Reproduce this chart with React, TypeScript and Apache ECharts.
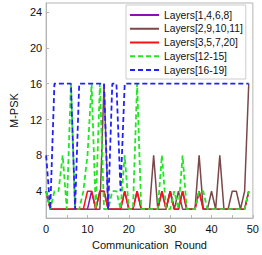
import React, { useEffect, useRef } from "react";
import * as echarts from "echarts";

const seriesNames = [
  "Layers[1,4,6,8]",
  "Layers[2,9,10,11]",
  "Layers[3,5,7,20]",
  "Layers[12-15]",
  "Layers[16-19]",
];

// rounds 0..49
const purple = [4,2,2,2,2,2,2,2,2,2, 2,4,2,4,4,2,2,2,2,4, 2,2,4,2,2,2,2,2,4,2, 4,2,2,4,2,2,2,4,2,2, 2,2,2,2,2,2,2,2,2,4];
const brown = [4,2,2,2,2,2,2,2,2,2, 2,2,2,2,16,2,2,2,2,2, 2,2,2,2,2,2,8,2,2,2, 4,2,4,2,2,2,2,8,2,2, 4,2,8,2,2,4,4,2,4,16];
const red = [4,2,2,2,2,2,2,2,2,2, 4,4,2,4,4,2,2,2,2,4, 2,2,4,2,2,2,2,2,4,2, 4,2,2,4,2,2,2,4,2,2, 2,2,2,2,2,2,2,2,2,4];
const green = [4,2,4,4,8,2,16,2,2,4, 8,16,2,16,2,2,4,4,2,8, 2,2,16,2,2,2,2,2,8,2, 2,4,2,8,2,2,2,4,4,2, 2,2,2,2,2,2,2,2,2,4];
const blue = [8,2,16,16,16,16,16,2,16,16, 16,16,16,16,16,2,16,16,4,16, 16,16,16,16,16,16,16,16,16,16, 16,16,16,16,16,16,16,16,16,16, 16,16,16,16,16,16,16,16,16,16];

const yTicks = [4, 8, 12, 16, 20, 24];
const xLabelStep = 10;
const xTickStep = 5;

const colors = ["#8a10b8", "#7a4848", "#ff1010", "#22e622", "#2020ff"];
const FONT = "Liberation Sans, Arial, sans-serif";

export default function App() {
  const ref = useRef<HTMLDivElement>(null);
  useEffect(() => {
    if (!ref.current) return;
    const chart = echarts.init(ref.current, undefined, { renderer: "svg" });
    const all = [purple, brown, red, green, blue];
    const axisColor = "#b4b4b4";
    chart.setOption({
      animation: false,
      backgroundColor: "#fff",
      textStyle: { fontFamily: FONT },
      grid: { left: 29.5, right: 7, top: 3, bottom: 28, show: true, borderColor: axisColor, borderWidth: 1 },
      legend: {
        orient: "vertical",
        left: 126,
        top: 5,
        padding: [4, 3, 3, 3],
        itemWidth: 29,
        itemHeight: 12,
        itemGap: 1.75,
        backgroundColor: "#fff",
        borderColor: "#cccccc",
        borderWidth: 1,
        itemStyle: { opacity: 0 },
        textStyle: { fontSize: 10.3, color: "#111", fontFamily: FONT, lineHeight: 12 },
        data: seriesNames,
      },
      xAxis: {
        type: "value",
        min: 0,
        max: 50,
        interval: xTickStep,
        name: "Communication  Round",
        nameLocation: "middle",
        nameGap: 17,
        nameTextStyle: { fontSize: 11, color: "#111", fontFamily: FONT },
        axisLine: { show: true, lineStyle: { color: axisColor } },
        axisTick: { show: true, inside: true, length: 3, lineStyle: { color: axisColor } },
        axisLabel: {
          fontSize: 11,
          color: "#111",
          margin: 5,
          fontFamily: FONT,
          formatter: (v: number) => (v % xLabelStep === 0 ? String(v) : ""),
        },
        splitLine: { show: false },
      },
      yAxis: {
        type: "value",
        min: 1,
        max: 25,
        name: "M-PSK",
        nameLocation: "middle",
        nameGap: 18,
        nameTextStyle: { fontSize: 11, color: "#111", fontFamily: FONT },
        axisLine: { show: true, lineStyle: { color: axisColor } },
        axisTick: { show: true, inside: true, length: 3, customValues: yTicks, lineStyle: { color: axisColor } },
        axisLabel: { customValues: yTicks, fontSize: 11, color: "#111", margin: 4, fontFamily: FONT },
        splitLine: { show: false },
      },
      series: all.map((arr, k) => ({
        name: seriesNames[k],
        type: "line",
        symbol: "none",
        data: arr.map((v, i) => [i, v]),
        color: colors[k],
        lineStyle: {
          color: colors[k],
          width: k >= 3 ? 1.8 : 1.5,
          type: k >= 3 ? [5, 3] : "solid",
        },
        z: 2 + k,
      })),
    });
    return () => chart.dispose();
  }, []);
  return (
    <div
      ref={ref}
      style={{ position: "fixed", left: 0, top: 0, width: 262, height: 255 }}
    />
  );
}
